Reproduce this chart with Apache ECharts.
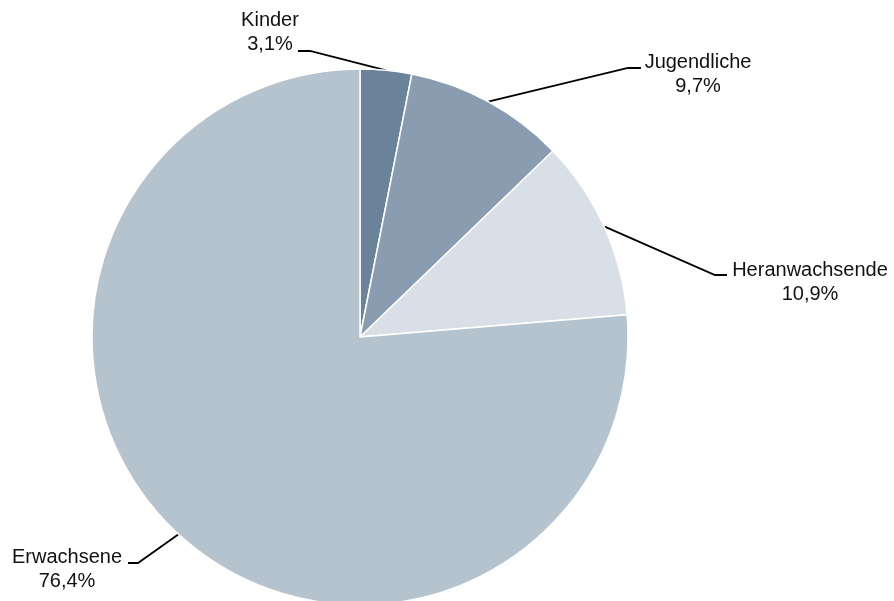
<!DOCTYPE html>
<html>
<head>
<meta charset="utf-8">
<script src="https://cdn.jsdelivr.net/npm/echarts@6/dist/echarts.min.js"></script>
<style>
  html, body { margin: 0; padding: 0; background: #fff; }
  #chart { width: 894px; height: 601px; }
</style>
</head>
<body>
<div id="chart"></div>
<script>
// Altersgruppen und Anteile in Prozent
const categories = ['Kinder', 'Jugendliche', 'Heranwachsende', 'Erwachsene'];
const shares = [3.1, 9.7, 10.9, 76.4];
const sliceColors = ['#6b8399', '#8a9db0', '#d9dfe6', '#b5c3ce'];

// Position of each label block (centre) and the elbow of its leader line
const labelPlacement = [
  { x: 270, y: 32,  elbow: [310, 51],  end: [298, 51] },
  { x: 698, y: 74,  elbow: [628, 68],  end: [641, 68] },
  { x: 810, y: 282, elbow: [715, 275], end: [727, 275] },
  { x: 67,  y: 569, elbow: [138, 563], end: [128, 563] }
];

const fmt = v => v.toFixed(1).replace('.', ',') + '%';

const chart = echarts.init(document.getElementById('chart'), null, { renderer: 'canvas' });

chart.setOption({
  animation: false,
  backgroundColor: '#ffffff',
  series: [{
    type: 'pie',
    center: [360, 337],
    radius: 268,
    startAngle: 90,
    clockwise: true,
    avoidLabelOverlap: false,
    data: categories.map((name, i) => ({
      name,
      value: shares[i],
      itemStyle: { color: sliceColors[i] }
    })),
    itemStyle: { borderColor: '#ffffff', borderWidth: 1.5 },
    label: {
      show: true,
      position: 'outside',
      formatter: p => p.name + '\n' + fmt(p.value),
      fontFamily: 'Liberation Sans, Arial, sans-serif',
      fontSize: 20,
      lineHeight: 24,
      color: '#111111',
      align: 'center'
    },
    labelLine: {
      show: true,
      length: 20,
      length2: 10,
      lineStyle: { color: '#000000', width: 1.8 }
    },
    labelLayout: params => {
      const pl = labelPlacement[params.dataIndex];
      const start = params.labelLinePoints ? params.labelLinePoints[0] : pl.elbow;
      return {
        x: pl.x,
        y: pl.y,
        align: 'center',
        verticalAlign: 'middle',
        labelLinePoints: [start, pl.elbow, pl.end]
      };
    }
  }]
});
</script>
</body>
</html>
